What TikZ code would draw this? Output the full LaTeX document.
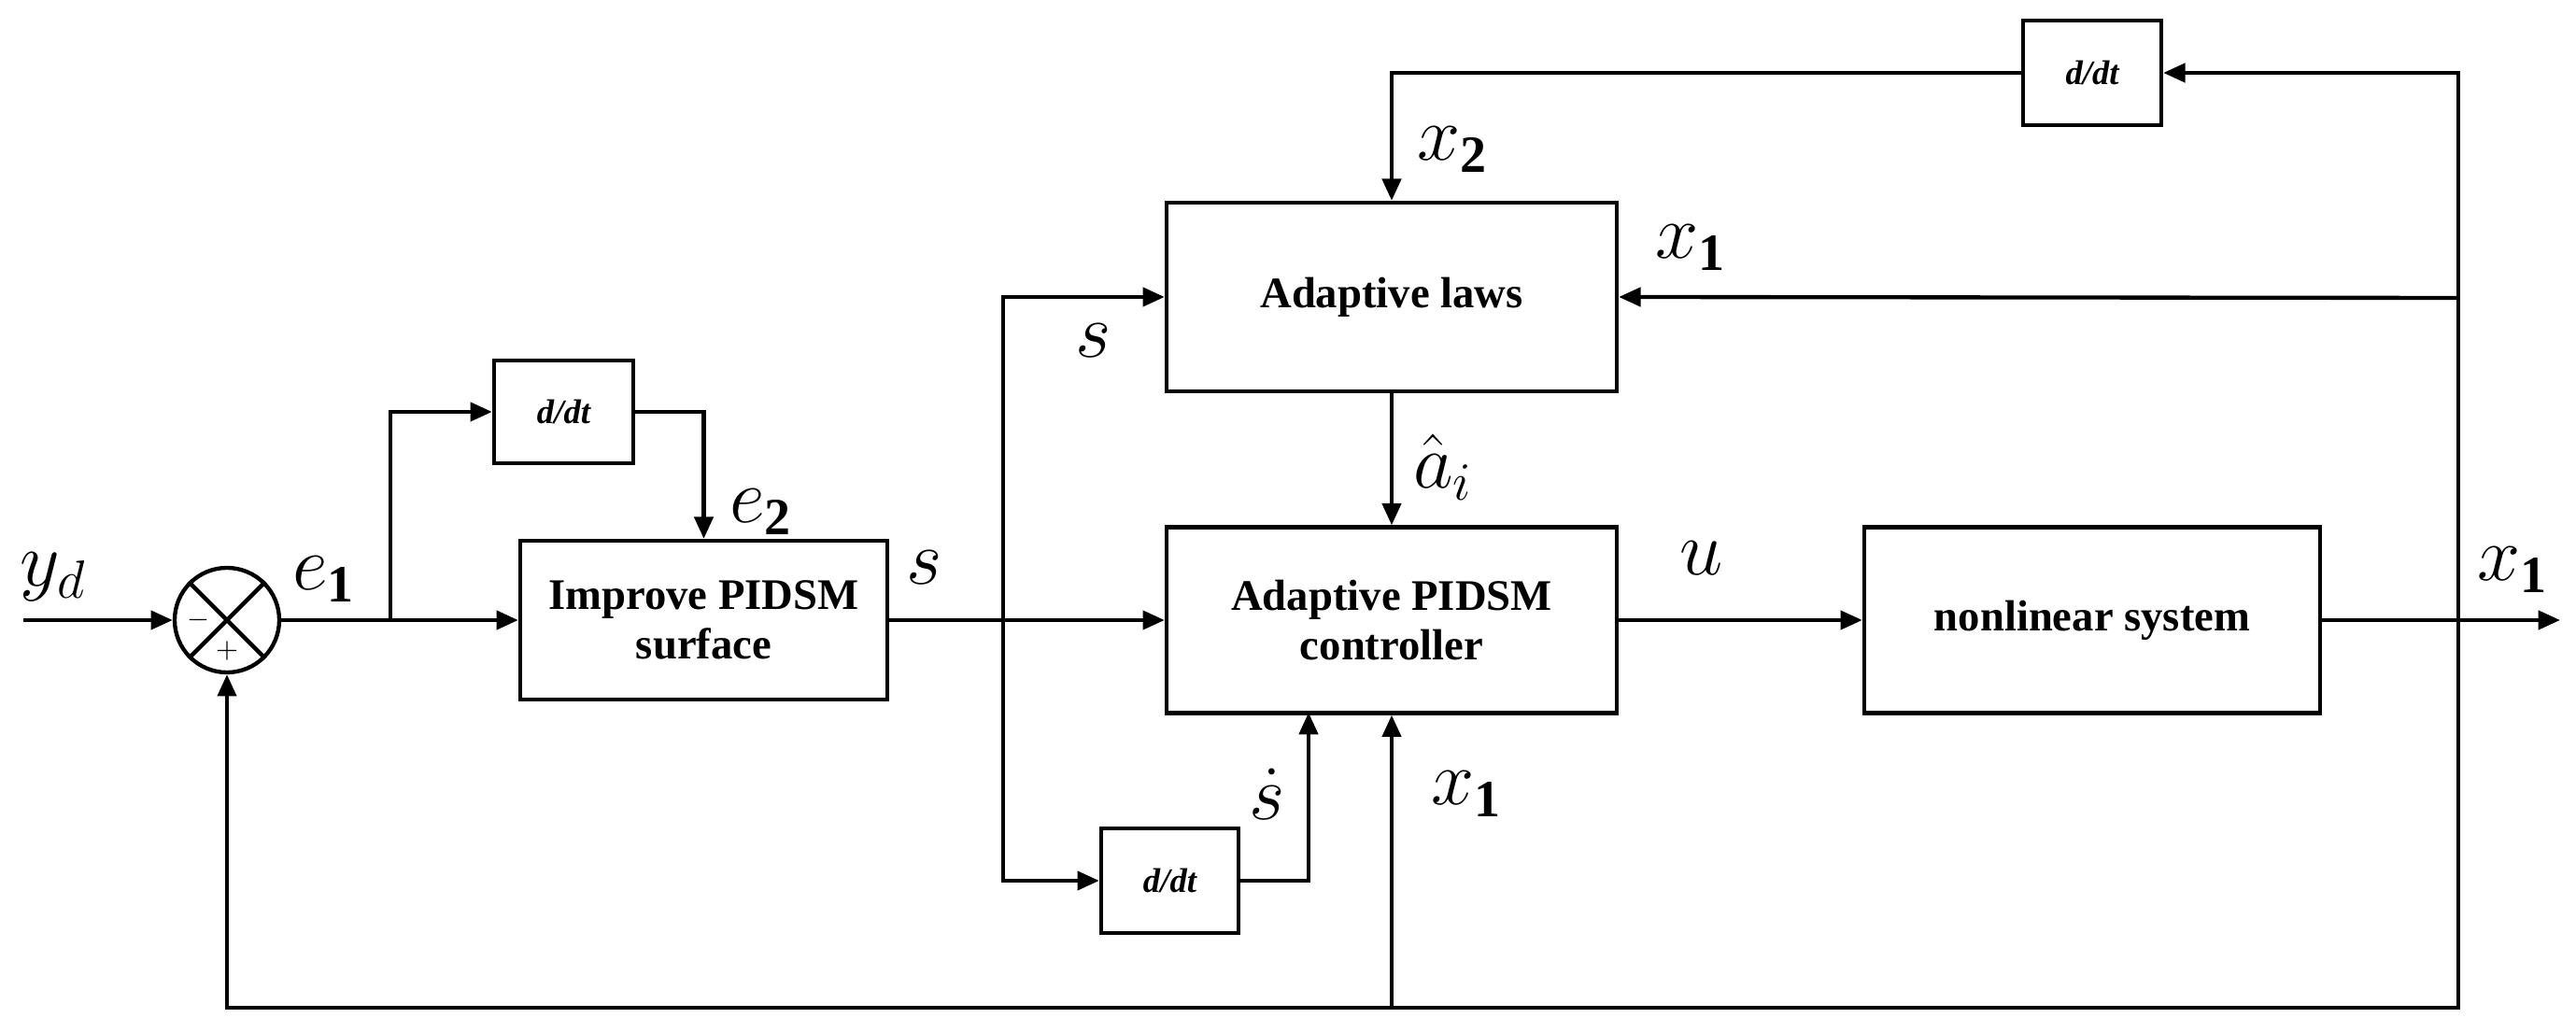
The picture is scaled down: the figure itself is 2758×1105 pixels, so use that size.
\documentclass[tikz,border=0pt]{standalone}
\usepackage{fontspec}
\setmainfont{Liberation Serif}
\usetikzlibrary{arrows.meta}
\begin{document}
\begin{tikzpicture}[x=0.3pt,y=-0.3pt,
  blk/.style={draw,line width=1.3pt,inner sep=0pt,font=\fontsize{14}{16}\selectfont\bfseries,align=center},
  ln/.style={line width=1.3pt},
  ar/.style={ln,-{Triangle[length=7pt,width=6pt]}},
  lab/.style={font=\fontsize{24}{26}\selectfont,inner sep=1pt}]
\useasboundingbox (0,0) rectangle (2758,1105);
% blocks
\node[blk,minimum width=149*0.3pt,minimum height=110*0.3pt,font=\fontsize{11}{13}\selectfont\bfseries\itshape] (d1) at (603.5,441) {d/dt};
\node[blk,minimum width=393*0.3pt,minimum height=170*0.3pt] (imp) at (753.5,664) {Improve PIDSM\\surface};
\node[blk,minimum width=482*0.3pt,minimum height=202*0.3pt] (law) at (1490,318) {Adaptive laws};
\node[blk,minimum width=482*0.3pt,minimum height=199*0.3pt] (ctl) at (1490,664) {Adaptive PIDSM\\controller};
\node[blk,minimum width=147*0.3pt,minimum height=112*0.3pt,font=\fontsize{11}{13}\selectfont\bfseries\itshape] (d3) at (1252.5,943) {d/dt};
\node[blk,minimum width=488*0.3pt,minimum height=199*0.3pt] (nl) at (2240,664) {nonlinear system};
\node[blk,minimum width=148*0.3pt,minimum height=112*0.3pt,font=\fontsize{11}{13}\selectfont\bfseries\itshape] (d2) at (2240,78) {d/dt};
\node[draw,circle,line width=1.3pt,minimum size=112*0.3pt,inner sep=0pt] (sum) at (243,664) {};
\draw[ln] (sum.north west)--(sum.south east) (sum.north east)--(sum.south west);
\node[font=\fontsize{9}{9}\selectfont] (mn) at (212,664) {$-$};
\node[font=\fontsize{9}{9}\selectfont] (pl) at (243,697) {$+$};
% coordinates
\coordinate (yd) at (25,664);
\coordinate (e1) at (418,664);
\coordinate (sb) at (1074,664);
\coordinate (xo) at (2632,664);
\coordinate (out) at (2741,664);
\coordinate (bot) at (2632,1079);
% connectors
\draw[ar] (yd)--(sum.west);
\draw[ar] (sum.east)--(imp.west);
\draw[ar] (e1)|-(d1.west);
\draw[ar] (d1.east)-|(imp.north);
\draw[ar] (imp.east)--(ctl.west);
\draw[ar] (sb)|-(law.west);
\draw[ar] (sb)|-(d3.west);
\draw[ar] (d3.east)-|(1401,763);
\draw[ar] (law.south)--(ctl.north);
\draw[ar] (ctl.east)--(nl.west);
\draw[ar] (nl.east)--(out);
\draw[ar] (xo)|-(d2.east);
\draw[ar] (d2.west)-|(law.north);
\draw[ar] (2632,319)--(law.east);
\draw[ar] (xo)|-(bot)-|(sum.south);
\draw[ar] (1490,1079)--(ctl.south);
% labels
\node[lab] (l1) at (57,618) {$y_d$};
\node[lab] (l2) at (347,620) {$e_{\mathbf 1}$};
\node[lab] (l3) at (815,548) {$e_{\mathbf 2}$};
\node[lab] (l4) at (990,608) {$s$};
\node[lab] (l5) at (1171,365) {$s$};
\node[lab] (l6) at (1357,850) {$\dot s$};
\node[lab] (l7) at (1555,160) {$x_{\mathbf 2}$};
\node[lab] (l8) at (1810,265) {$x_{\mathbf 1}$};
\node[lab] (l9) at (1545,500) {$\hat a_i$};
\node[lab] (l10) at (1822,598) {$u$};
\node[lab] (l11) at (2690,610) {$x_{\mathbf 1}$};
\node[lab] (l12) at (1570,850) {$x_{\mathbf 1}$};
\end{tikzpicture}
\end{document}
